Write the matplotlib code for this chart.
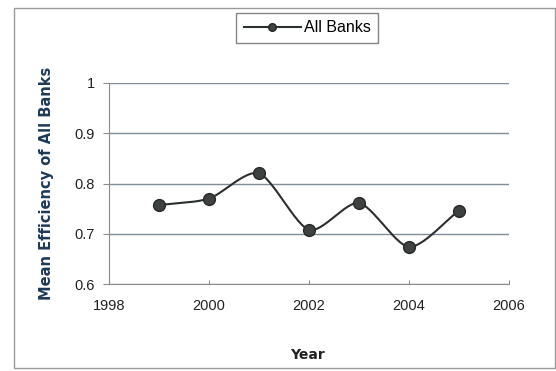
import numpy as np
import matplotlib
matplotlib.use("Agg")
import matplotlib.pyplot as plt
from matplotlib.patches import Rectangle

# data
years = [1999, 2000, 2001, 2002, 2003, 2004, 2005]
efficiency = [0.757, 0.770, 0.820, 0.708, 0.761, 0.674, 0.746]
series_name = "All Banks"


def smooth(xs, ys, steps=30, tension=0.8):
    # cardinal spline through the points, like the spreadsheet "smoothed line"
    xs = np.asarray(xs, float)
    ys = np.asarray(ys, float)
    px = np.concatenate([[2 * xs[0] - xs[1]], xs, [2 * xs[-1] - xs[-2]]])
    py = np.concatenate([[2 * ys[0] - ys[1]], ys, [2 * ys[-1] - ys[-2]]])
    out_x, out_y = [], []
    t = np.linspace(0, 1, steps)
    h00 = 2 * t ** 3 - 3 * t ** 2 + 1
    h10 = t ** 3 - 2 * t ** 2 + t
    h01 = -2 * t ** 3 + 3 * t ** 2
    h11 = t ** 3 - t ** 2
    for i in range(1, len(px) - 2):
        for p, out in ((px, out_x), (py, out_y)):
            m1 = tension * 0.5 * (p[i + 1] - p[i - 1])
            m2 = tension * 0.5 * (p[i + 2] - p[i])
            out.extend(h00 * p[i] + h10 * m1 + h01 * p[i + 1] + h11 * m2)
    return out_x, out_y


plt.rcParams['font.family'] = ['Liberation Sans', 'DejaVu Sans']

W, H = 556, 371
fig = plt.figure(figsize=(W / 100, H / 100), dpi=100)
fig.patch.set_facecolor("white")
# outer chart border
fig.patches.append(Rectangle((14 / W, 1 - 368 / H), 541 / W, 360 / H,
                             transform=fig.transFigure, fill=False,
                             edgecolor="#9a9a9a", linewidth=1.0))

ax = fig.add_axes([109 / W, 1 - 284 / H, 400 / W, 201 / H])
sx, sy = smooth(years, efficiency)
ax.plot(sx, sy, color="#2b2f2f", linewidth=1.5, zorder=3)
ax.plot(years, efficiency, linestyle="none", marker="o", markersize=8.5,
        markerfacecolor="#3d4240", markeredgecolor="#262828", zorder=4)

ax.set_xlim(1998, 2006)
ax.set_ylim(0.6, 1.0)
ax.set_xticks([1998, 2000, 2002, 2004, 2006])
ax.set_yticks([0.6, 0.7, 0.8, 0.9, 1.0])
ax.set_yticklabels(["0.6", "0.7", "0.8", "0.9", "1"])
ax.yaxis.grid(True, color="#7f8e99", linewidth=1.0)
ax.set_axisbelow(True)
for side in ("top", "right"):
    ax.spines[side].set_visible(False)
for side in ("left", "bottom"):
    ax.spines[side].set_color("#8c8c8c")
ax.tick_params(axis="both", colors="#8c8c8c", labelcolor="#222222",
               labelsize=10.5)
ax.tick_params(axis="x", direction="in", length=3, pad=11)
ax.tick_params(axis="y", direction="out", length=4, pad=6)

ax.set_xlabel("Year", fontsize=10, fontweight="bold", color="#222222",
              family="DejaVu Sans")
ax.xaxis.set_label_coords(0.495, -0.32)
ax.set_ylabel("Mean Efficiency of All Banks", fontsize=10.5,
              fontweight="bold", color="#1f3a56", family="DejaVu Sans")
ax.yaxis.set_label_coords(-0.137, 0.5)

# legend box at the top
handle, = ax.plot([], [], color="#2b2f2f", linewidth=1.5, marker="o",
                  markersize=5.5, markerfacecolor="#3d4240",
                  markeredgecolor="#262828")
leg = fig.legend([handle], [series_name], loc="center",
                 bbox_to_anchor=(307 / W, 1 - 28 / H), fontsize=11.5,
                 frameon=True, fancybox=False, handlelength=3.6,
                 borderpad=0.45, handletextpad=0.15, borderaxespad=0)
leg.get_frame().set_edgecolor("#666666")
leg.get_frame().set_linewidth(1.0)

fig.savefig("out.png", dpi=100, facecolor="white")
